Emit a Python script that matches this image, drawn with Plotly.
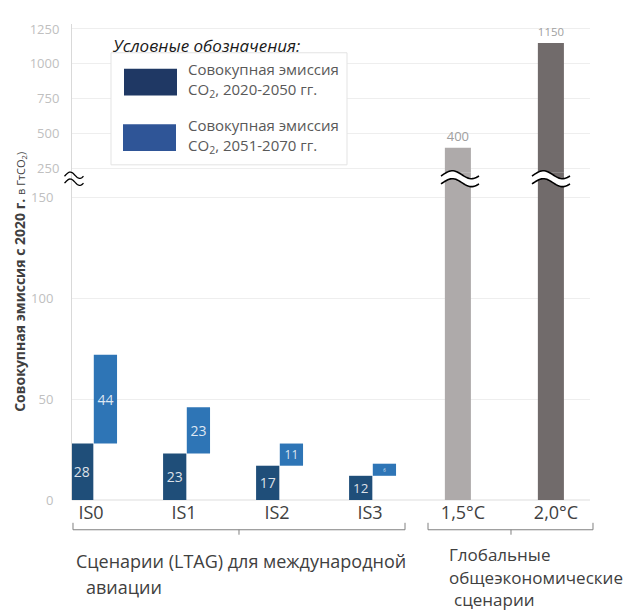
import plotly.graph_objects as go
import math

# ---------------- data ----------------
categories = ["IS0", "IS1", "IS2", "IS3", "1,5°C", "2,0°C"]
aviation = ["IS0", "IS1", "IS2", "IS3"]
emis_2020_2050 = [28, 23, 17, 12]
emis_2051_2070 = [44, 23, 11, 6]
global_scen = ["1,5°C", "2,0°C"]
global_vals = [400, 1150]
lower_ticks = [0, 50, 100, 150]
upper_ticks = [250, 500, 750, 1000, 1250]

# ---------------- layout geometry (screen pixels) ----------------
OFF = 8                      # default body margin of the html page
SW, SH = 632, 612            # screen size
PL, PR, PT, PB = 72, 590, 20, 500   # plot area on screen
W, H = SW - OFF, SH - OFF
L, R, T, B = PL - OFF, SW - PR, PT - OFF, SH - PB
PW, PH = PR - PL, PB - PT


def px(x):
    return (x - PL) / PW


def py(y):
    return (PB - y) / PH


SPLIT = py(170)

DARK = "#1f4e79"
LIGHT = "#2e75b6"
GREY1 = "#aeaaaa"
GREY2 = "#716b6b"
FONT = "Open Sans"

fig = go.Figure()

idx_av = list(range(len(aviation)))
fig.add_trace(go.Bar(
    x=[i - 0.1 for i in idx_av], y=emis_2020_2050, width=0.25,
    marker=dict(color=DARK, line=dict(width=0)),
    text=[str(v) for v in emis_2020_2050], textposition="inside",
    insidetextanchor="middle", textangle=0,
    textfont=dict(color="rgba(255,255,255,0.85)", size=14, family=FONT),
    showlegend=False, yaxis="y", hoverinfo="skip"))
fig.add_trace(go.Bar(
    x=[i + 0.155 for i in idx_av], y=emis_2051_2070, base=emis_2020_2050, width=0.25,
    marker=dict(color=LIGHT, line=dict(width=0)),
    text=[str(v) for v in emis_2051_2070], textposition="inside",
    insidetextanchor="middle", textangle=0,
    textfont=dict(color="rgba(255,255,255,0.85)", size=14, family=FONT),
    showlegend=False, yaxis="y", hoverinfo="skip"))

gx = [len(aviation) + i - 0.055 for i in range(len(global_scen))]
gcol = [GREY1, GREY2]
# lower part of global bars (clipped by the lower panel)
fig.add_trace(go.Bar(
    x=gx, y=global_vals, width=0.28, marker=dict(color=gcol, line=dict(width=0)),
    showlegend=False, yaxis="y", hoverinfo="skip"))
# upper part of global bars
fig.add_trace(go.Bar(
    x=gx, y=global_vals, width=0.28, marker=dict(color=gcol, line=dict(width=0)),
    text=[str(v) for v in global_vals], textposition="outside", cliponaxis=False,
    textfont=dict(color="#a0a0a0", size=13, family=FONT),
    showlegend=False, yaxis="y2", hoverinfo="skip"))

lower_top = (PB - 170) / ((500 - 195) / 150)
up_scale = (166 - 25) / 1000.0
upper_bot = 250 - (170 - 166) / up_scale
upper_top = 1250 + (25 - PT) / up_scale

GRID = "#eeeeee"
AXC = "#d9d9d9"
TICKF = dict(family=FONT, size=13, color="#c0c0c0")

fig.update_layout(
    width=W, height=H,
    margin=dict(l=L, r=R, t=T, b=B),
    paper_bgcolor="white", plot_bgcolor="white",
    barmode="overlay",
    font=dict(family=FONT, color="#404040"),
    xaxis=dict(
        range=[(PL - 91) / 93, (PR - 91) / 93],
        tickvals=list(range(len(categories))), ticktext=categories,
        tickfont=dict(family=FONT, size=18, color="#404040"),
        showgrid=False, zeroline=False, showline=False, ticks="",
        fixedrange=True),
    yaxis=dict(
        domain=[0, SPLIT], range=[0, lower_top],
        tickvals=lower_ticks, ticktext=[str(v) for v in lower_ticks],
        tickfont=TICKF, ticklabelstandoff=15,
        showgrid=True, gridcolor=GRID, gridwidth=1,
        zeroline=True, zerolinecolor=GRID,
        showline=True, linecolor=AXC, linewidth=1, ticks=""),
    yaxis2=dict(
        domain=[SPLIT, 1], range=[upper_bot, upper_top], anchor="x",
        tickvals=upper_ticks, ticktext=[str(v) for v in upper_ticks],
        tickfont=TICKF, ticklabelstandoff=9,
        showgrid=True, gridcolor=GRID, gridwidth=1, zeroline=False,
        showline=True, linecolor=AXC, linewidth=1, ticks=""),
)

shapes = []
annotations = []


def wave(x0, x1, yc, A, n=28, phase=0.0):
    pts = []
    for k in range(n + 1):
        t = k / n
        x = x0 + t * (x1 - x0)
        y = yc - A * math.sin(2 * math.pi * (t - phase))
        pts.append((x, y))
    return pts


def path_of(pts, close=False):
    s = "M " + " L ".join(f"{px(x):.5f},{py(y):.5f}" for x, y in pts)
    return s + (" Z" if close else "")


def break_symbol(cx, cy, w, A, gap, fill=True, lw=1.6):
    x0, x1 = cx - w / 2, cx + w / 2
    top = wave(x0, x1, cy - gap / 2, A, phase=0.05)
    bot = wave(x0, x1, cy + gap / 2, A, phase=0.05)
    if fill:
        shapes.append(dict(type="path", xref="paper", yref="paper",
                           path=path_of(top + bot[::-1], close=True),
                           fillcolor="white", line=dict(width=0), layer="above"))
    for p in (top, bot):
        shapes.append(dict(type="path", xref="paper", yref="paper",
                           path=path_of(p), line=dict(color="black", width=lw),
                           layer="above"))


break_symbol(74, 176, 19, 3.2, 7, fill=False, lw=1.3)
break_symbol(460, 176, 38, 4.0, 8)
break_symbol(551, 176, 38, 4.0, 8)

# legend box
shapes.append(dict(type="rect", xref="paper", yref="paper",
                   x0=px(111), x1=px(347), y0=py(162), y1=py(49),
                   fillcolor="white", line=dict(color="#e3e3e3", width=1), layer="above"))
shapes.append(dict(type="rect", xref="paper", yref="paper",
                   x0=px(124), x1=px(177), y0=py(92), y1=py(65),
                   fillcolor="#1f3864", line=dict(width=0), layer="above"))
shapes.append(dict(type="rect", xref="paper", yref="paper",
                   x0=px(123), x1=px(176), y0=py(148), y1=py(121),
                   fillcolor="#2f5597", line=dict(width=0), layer="above"))

annotations.append(dict(x=px(110), y=py(42), xref="paper", yref="paper",
                        text="<i>Условные обозначения:</i>", showarrow=False,
                        xanchor="left", yanchor="middle",
                        font=dict(family=FONT, size=17, color="#1a1a1a")))
leg_blocks = [("Совокупная эмиссия<br>CO<sub>2</sub>, 2020-2050 гг.", 76),
              ("Совокупная эмиссия<br>CO<sub>2</sub>, 2051-2070 гг.", 133)]
for txt, yy in leg_blocks:
    annotations.append(dict(x=px(186), y=py(yy), xref="paper", yref="paper",
                            text=txt, showarrow=False, xanchor="left", yanchor="middle",
                            align="left",
                            font=dict(family=FONT, size=15, color="#595959")))

# brackets
BRC = "#808080"


def bracket(x0, x1, xc, yb=530, up=7, down=5):
    p = (f"M {px(x0):.5f},{py(yb-up):.5f} L {px(x0):.5f},{py(yb):.5f} "
         f"L {px(x1):.5f},{py(yb):.5f} L {px(x1):.5f},{py(yb-up):.5f} "
         f"M {px(xc):.5f},{py(yb):.5f} L {px(xc):.5f},{py(yb+down):.5f}")
    shapes.append(dict(type="path", xref="paper", yref="paper", path=p,
                       line=dict(color=BRC, width=1), layer="above"))


bracket(73, 405, 239)
bracket(428, 593, 511)

bottom_text = [("Сценарии (LTAG) для международной", 74, 562, 18),
               ("авиации", 84, 588, 18),
               ("Глобальные", 447, 555, 17),
               ("общеэкономические", 447, 578, 17),
               ("сценарии", 452, 600, 17)]
for txt, xx, yy, fs in bottom_text:
    annotations.append(dict(x=px(xx), y=py(yy), xref="paper", yref="paper",
                            text=txt, showarrow=False, xanchor="left", yanchor="middle",
                            font=dict(family=FONT, size=fs, color="#404040")))

# y axis title
annotations.append(dict(x=px(20), y=py(280), xref="paper", yref="paper",
                        text="<b>Совокупная эмиссия с 2020 г.</b> "
                             "<span style='font-size:11px'>в ГтCO<sub>2</sub>)</span>",
                        showarrow=False, textangle=-90, xanchor="center", yanchor="middle",
                        font=dict(family=FONT, size=14, color="#404040")))

fig.update_layout(shapes=shapes, annotations=annotations)
fig.write_html("out.html")
